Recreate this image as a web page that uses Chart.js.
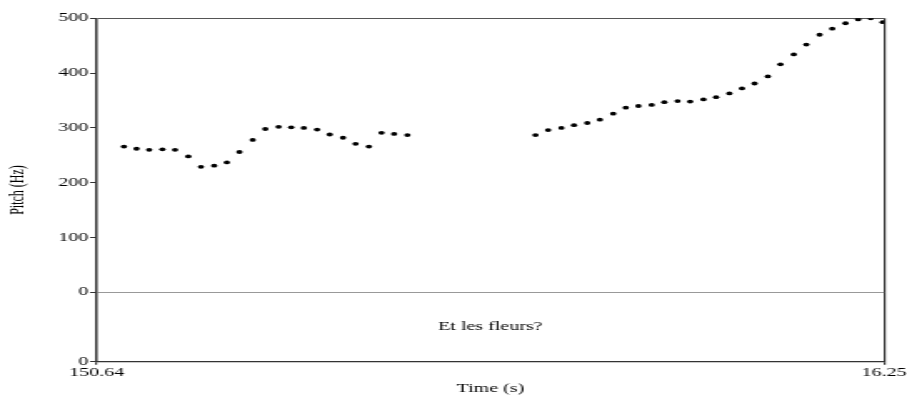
<!DOCTYPE html>
<html>

<head>
    <title>Pitch - Et les fleurs?</title>
    <script src="https://cdn.jsdelivr.net/npm/chart.js@4.4.2/dist/chart.umd.min.js"></script>
    <style>
        body {
            margin: 0;
            background: #fff;
            overflow: hidden;
        }

        /* the original picture is stretched sideways, so the chart is drawn narrow and scaled */
        #wrap {
            width: 544px;
            height: 396px;
            transform: scaleX(1.6673);
            transform-origin: 0 0;
        }
    </style>
</head>

<body>
    <div id="wrap">
        <canvas id="pitchChart"></canvas>
    </div>
    <script>
        // time of each pitch frame (s)
        var times = [
            15.105, 15.124, 15.143, 15.163, 15.182, 15.202, 15.221, 15.241, 15.260, 15.279, 15.299, 15.318,
            15.338, 15.357, 15.376, 15.396, 15.415, 15.435, 15.454, 15.474, 15.493, 15.512, 15.532,
            15.725, 15.744, 15.764, 15.783, 15.803, 15.822, 15.842, 15.861, 15.880, 15.900, 15.919, 15.939,
            15.958, 15.978, 15.997, 16.017, 16.036, 16.055, 16.075, 16.094, 16.114, 16.133, 16.153, 16.172,
            16.192, 16.211, 16.230, 16.248
        ];
        // pitch (Hz)
        var pitch = [
            266, 262, 260, 261, 260, 248, 229, 231, 237, 256, 278, 298,
            302, 301, 300, 297, 288, 282, 271, 266, 291, 289, 287,
            287, 296, 300, 305, 309, 315, 326, 337, 340, 342, 347, 349,
            348, 352, 356, 363, 372, 381, 394, 416, 434, 452, 470, 481,
            491, 498, 500, 493
        ];
        var pitchTicks = [0, 100, 200, 300, 400, 500];
        var tierTickLabel = '0';
        var xTickLabels = ['150.64', '16.25'];
        var tierText = 'Et les fleurs?';

        var T_START = 15.064;
        var T_END = 16.25;
        var TIER_FLOOR = -126.6; // text tier below the pitch area

        Chart.defaults.font.family = '"Liberation Serif", "Times New Roman", serif';
        Chart.defaults.font.size = 12;
        Chart.defaults.color = '#000';

        var points = times.map(function (t, i) {
            return { x: t, y: pitch[i] };
        });

        // writes the tier text in the middle of the lower box
        var tierPlugin = {
            id: 'tierText',
            afterDraw: function (chart) {
                var ctx = chart.ctx;
                var area = chart.chartArea;
                var y0 = chart.scales.y.getPixelForValue(0);
                ctx.save();
                ctx.font = '12px "Liberation Serif", serif';
                ctx.fillStyle = '#000';
                ctx.textAlign = 'center';
                ctx.textBaseline = 'middle';
                ctx.fillText(tierText, (area.left + area.right) / 2, (y0 + area.bottom) / 2);
                ctx.restore();
            }
        };

        var ctx = document.getElementById('pitchChart').getContext('2d');
        var pitchChart = new Chart(ctx, {
            type: 'scatter',
            data: {
                datasets: [{
                    label: 'Pitch',
                    data: points,
                    backgroundColor: '#000',
                    borderWidth: 0,
                    pointRadius: 1.9,
                    pointHoverRadius: 1.9
                }]
            },
            options: {
                responsive: true,
                maintainAspectRatio: false,
                animation: false,
                events: [],
                layout: {
                    padding: { left: 0, right: 13.8, top: 18.3, bottom: 0 }
                },
                plugins: {
                    legend: { display: false },
                    tooltip: { enabled: false }
                },
                scales: {
                    x: {
                        type: 'linear',
                        min: T_START,
                        max: T_END,
                        afterBuildTicks: function (s) {
                            s.ticks = [{ value: T_START }, { value: T_END }];
                        },
                        afterFit: function (s) {
                            s.height = 34.3;
                            s.paddingLeft = 0;
                            s.paddingRight = 0;
                        },
                        ticks: {
                            autoSkip: false,
                            maxRotation: 0,
                            padding: 1,
                            callback: function (v, i) {
                                return xTickLabels[i];
                            }
                        },
                        grid: {
                            tickLength: 3,
                            tickColor: '#333',
                            lineWidth: 1.2,
                            color: function (c) {
                                return c.tick && c.tick.value === T_END ? '#333' : 'rgba(0,0,0,0)';
                            }
                        },
                        border: { color: '#333', width: 1.2 },
                        title: {
                            display: true,
                            text: 'Time (s)',
                            padding: { top: 0, bottom: 0 }
                        }
                    },
                    y: {
                        min: TIER_FLOOR,
                        max: 500,
                        afterBuildTicks: function (s) {
                            s.ticks = [TIER_FLOOR].concat(pitchTicks).map(function (v) {
                                return { value: v };
                            });
                        },
                        afterFit: function (s) {
                            s.width = 58;
                        },
                        ticks: {
                            padding: 1,
                            callback: function (v) {
                                return v === TIER_FLOOR ? tierTickLabel : String(v);
                            }
                        },
                        grid: {
                            tickLength: 4,
                            tickColor: '#333',
                            lineWidth: 1,
                            color: function (c) {
                                if (!c.tick) return 'rgba(0,0,0,0)';
                                if (c.tick.value === 0) return '#999';
                                if (c.tick.value === 500) return '#555';
                                return 'rgba(0,0,0,0)';
                            }
                        },
                        border: { color: '#333', width: 1.5 },
                        title: {
                            display: true,
                            text: 'Pitch (Hz)',
                            padding: { top: 4, bottom: 0 }
                        }
                    }
                }
            },
            plugins: [tierPlugin]
        });
    </script>
</body>

</html>
